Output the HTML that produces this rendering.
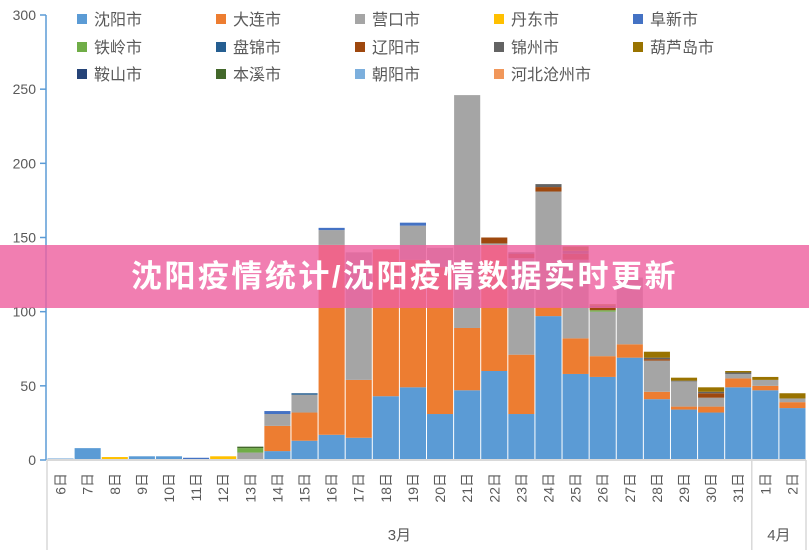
<!DOCTYPE html>
<html><head><meta charset="utf-8"><style>
body{margin:0;background:#fff;width:809px;height:554px;overflow:hidden;position:relative;font-family:"Liberation Sans","Noto Sans CJK SC",sans-serif}
svg{position:absolute;left:0;top:0}
#banner{position:absolute;left:0;top:245px;width:809px;height:63px;background:rgba(238,98,160,0.82);color:#fff;font-weight:bold;font-size:31px;line-height:63px;text-align:center;font-family:"Liberation Sans","Noto Sans CJK SC",sans-serif;letter-spacing:2.5px}
</style></head><body>
<svg id="chart" width="809" height="554" xmlns="http://www.w3.org/2000/svg"></svg>
<div id="banner">沈阳疫情统计/沈阳疫情数据实时更新</div>
<script>
const categories=["6日","7日","8日","9日","10日","11日","12日","13日","14日","15日","16日","17日","18日","19日","20日","21日","22日","23日","24日","25日","26日","27日","28日","29日","30日","31日","1日","2日"];
const seriesNames=["沈阳市","大连市","营口市","丹东市","阜新市","铁岭市","盘锦市","辽阳市","锦州市","葫芦岛市","鞍山市","本溪市","朝阳市","河北沧州市"];
const colors=["#5B9BD5","#ED7D31","#A5A5A5","#FFC000","#4472C4","#70AD47","#255E91","#9E480E","#636363","#997300","#264478","#43682B","#7CAFDD","#F1975A"];
const shenyang=[1,8,0,2.5,2.5,0,0,0,6,13,17,15,43,49,31,47,60,31,97,58,56,69,41,34,32,49,47,35];
const dalian=[0,0,0,0,0,0,0,0,17,19,128,39,99,86,99,42,85,40,6,24,14,9,5,2,4,6,3,4];
const yingkou=[0,0,0,0,0,0,0,5,8,12,10,86,0,23,13,157,1,65,78,53,30,45,21,17,6,3,4,2.5];
const dandong=[0,0,2,0,0,0,2.5,0,0,0,0,0,0,0,0,0,0,0,0,0,0,0,0,0,0,0,0,0];
const fuxin=[0,0,0,0,0,1.5,0,0,2,0,1.5,0,0,2,0,0,0,0,0,0,0,0,0,0,0,0,0,0];
const tieling=[0,0,0,0,0,0,0,3,0,0,0,0,0,0,0,0,0,0,0,0,1,0,0,0,0,0,0,0];
const panjin=[0,0,0,0,0,0,0,0,0,1,0,0,0,0,0,0,0,0,0,0,0,0,0,0,0,0,0,0];
const liaoyang=[0,0,0,0,0,0,0,0,0,0,0,0,0,0,0,0,4,3,3,4,2,0,1,0,3,0,0,0];
const jinzhou=[0,0,0,0,0,0,0,0,0,0,0,0,0,0,0,0,0,1,2,2,1,0,1,0.5,1,1,0,0];
const huludao=[0,0,0,0,0,0,0,0,0,0,0,0,0,0,0,0,0,0,0,3,1,0,4,2,3,1,2,3.5];
const anshan=[0,0,0,0,0,0,0,0,0,0,0,0,0,0,0,0,0,0,0,0,0,0,0,0,0,0,0,0];
const benxi=[0,0,0,0,0,0,0,1,0,0,0,0,0,0,0,0,0,0,0,0,0,0,0,0,0,0,0,0];
const chaoyang=[0,0,0,0,0,0,0,0,0,0,0,0,0,0,0,0,0,0,0,0,0,0,0,0,0,0,0,0];
const cangzhou=[0,0,0,0,0,0,0,0,0,0,0,0,0,0,0,0,0,0,0,0,0,0,0,0,0,0,0,0];
const yTicks=[0,50,100,150,200,250,300];
const months=["3月","4月"];
const series=[shenyang,dalian,yingkou,dandong,fuxin,tieling,panjin,liaoyang,jinzhou,huludao,anshan,benxi,chaoyang,cangzhou];
const NS="http://www.w3.org/2000/svg";
const svg=document.getElementById('chart');
const X0=47,X1=806,Y0=460,Y1=15,YMAX=300;
const slot=(X1-X0)/categories.length;
function y(v){return Y0-(v/YMAX)*(Y0-Y1);}
function xs(i){return X0+i*slot;}
function mk(t,a){const e=document.createElementNS(NS,t);for(const k in a)e.setAttribute(k,a[k]);svg.appendChild(e);return e;}
categories.forEach((c,i)=>{let acc=0;series.forEach((s,k)=>{const v=s[i];if(!v)return;const r=mk('rect',{x:xs(i)+0.5,y:y(acc+v),width:slot-1,height:y(acc)-y(acc+v),fill:colors[k]});


acc+=v;});});
let ax=mk('line',{x1:X0,y1:Y0,x2:X1,y2:Y0,stroke:'#d9d9d9','stroke-width':2});


let yax=mk('line',{x1:X0-1,y1:Y1,x2:X0-1,y2:Y0,stroke:'#5B9BD5','stroke-width':1.5});


yTicks.forEach(t=>{mk('line',{x1:X0-7,y1:y(t),x2:X0-1,y2:y(t),stroke:'#5B9BD5','stroke-width':1.5});
const tx=mk('text',{x:36,y:y(t)+5,'text-anchor':'end','font-size':14,fill:'#595959'});tx.textContent=t;

});
categories.forEach((c,i)=>{const cx=xs(i)+slot/2+5;const tx=mk('text',{x:0,y:0,transform:`translate(${cx},473) rotate(-90)`,'text-anchor':'end','font-size':14,fill:'#595959'});tx.textContent=c;

});
[[X0,Y0,X0,550],[xs(26),Y0,xs(26),550],[X1,Y0,X1,550]].forEach(l=>mk('line',{x1:l[0],y1:l[1],x2:l[2],y2:l[3],stroke:'#d9d9d9','stroke-width':1.5}));
const m1=mk('text',{x:(xs(0)+xs(26))/2,y:540,'text-anchor':'middle','font-size':15,fill:'#595959'});m1.textContent=months[0];


const m2=mk('text',{x:(xs(26)+X1)/2,y:540,'text-anchor':'middle','font-size':15,fill:'#595959'});m2.textContent=months[1];


const colX=[77,216,355,494,633],rowY=[19,47,74];
seriesNames.forEach((n,k)=>{const cx=colX[k%5],cy=rowY[Math.floor(k/5)];
mk('rect',{x:cx,y:cy-5,width:10,height:10,fill:colors[k]});
const t=mk('text',{x:cx+17,y:cy+6,'font-size':16,fill:'#595959'});t.textContent=n;

});
</script>
</body></html>
